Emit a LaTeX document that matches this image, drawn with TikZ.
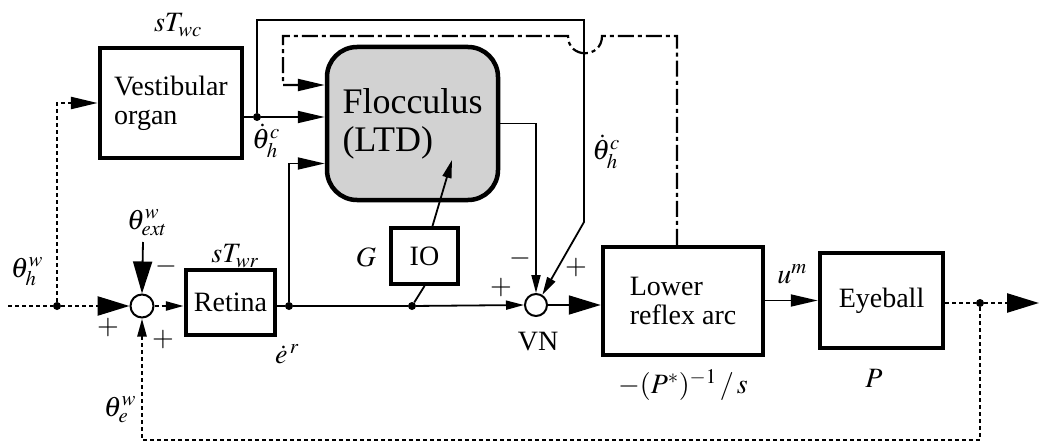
\documentclass[tikz,border=0pt]{standalone}
\usepackage{mathptmx}
\usepackage{fontspec}
\setmainfont{Liberation Serif}
\usetikzlibrary{arrows.meta,calc}
\tikzset{
  blk/.style={draw,line width=4.5pt,inner sep=0pt,align=left,font=\fontsize{28}{29}\selectfont},
  conn/.style={line width=1.8pt},
  dotl/.style={line width=2.5pt,dash pattern=on 4pt off 3pt},
  dashdot/.style={line width=2.2pt,dash pattern=on 16pt off 4pt on 4pt off 4pt},
  arrA/.style={-{Triangle[length=32pt,width=19pt]}},
  arrB/.style={-{Triangle[length=27pt,width=12pt]}},
  arrC/.style={-{Triangle[length=18pt,width=9pt]}},
  sumc/.style={circle,draw,line width=2pt,minimum size=23pt,inner sep=0pt},
  jdot/.style={circle,fill,inner sep=0pt,minimum size=8pt},
  lbl/.style={font=\fontsize{28}{29}\selectfont}
}
\begin{document}
\begin{tikzpicture}[x=1pt,y=-1pt]
\useasboundingbox (0,0) rectangle (1039,444);
% blocks
\node[blk,minimum width=142pt,minimum height=110pt] (vest) at (171,103) {Vestibular\\organ};
\node[blk,rounded corners=30pt,fill=gray!35,minimum width=171pt,minimum height=153pt,font=\fontsize{36}{38}\selectfont] (floc) at (412.5,123.5) {Flocculus\\(LTD)};
\node[blk,minimum width=89pt,minimum height=65pt] (ret) at (230.5,302.5) {Retina};
\node[blk,line width=4pt,minimum width=67pt,minimum height=56pt] (io) at (424.5,256) {IO};
\node[blk,minimum width=160pt,minimum height=108pt] (lra) at (683,301) {Lower\\reflex arc};
\node[blk,minimum width=123pt,minimum height=95pt] (eye) at (881.5,300.5) {Eyeball};
\node[sumc] (sum) at (142,306) {};
\node[sumc,minimum size=22pt] (vn) at (536,305) {};
% junctions
\node[jdot] (dh) at (57,306) {};
\node[jdot] (thc) at (257,117) {};
\node[jdot] (er) at (289,306) {};
\node[jdot] (iod) at (412,306) {};
\node[jdot] (dout) at (980,303) {};
\coordinate (in) at (8,306);
\coordinate (out) at (1039,303);
\coordinate (ext) at (143,242);
\coordinate (tl) at (257,20);
\coordinate (tr) at (584,20);
\coordinate (bend) at (584,222);
\coordinate (ddtop) at (677,36);
\coordinate (hopR) at (602,36);
\coordinate (hopL) at (568,36);
\coordinate (ddleft) at (283,36);
\coordinate (ioT) at (452,160);
\coordinate (bot) at (980,440);
% input theta_h^w
\draw[dotl] (in) -- (dh);
\draw[dotl,arrA] (dh) -- (sum.west);
\draw[dotl,arrB] (dh) |- (vest.west);
% external
\draw[conn,arrA] (ext) -- (sum.north);
\draw[dotl,arrC] (sum.east) -- (ret.west |- sum.east);
% retina output
\draw[conn] (ret.east |- er) -- (er);
\draw[conn] (er) -- (iod);
\draw[conn,arrC] (iod) -- (vn.west);
\draw[conn,arrB] (er) |- ($(floc.west)+(0,40)$);
% vestibular output
\draw[conn] (vest.east |- thc) -- (thc);
\draw[conn,arrB] (thc) -- (floc.west |- thc);
\draw[conn,arrC] (thc) -- (tl) -- (tr) -- (bend) -- (vn.58);
% flocculus output
\draw[conn,arrC] (floc.east) -| (vn.north);
% IO
\draw[conn] (io.south) -- (iod);
\draw[conn,arrC] ($(io.north)+(8,0)$) -- (ioT);
% VN to lower reflex arc
\draw[conn,arrA] (vn.east) -- (lra.west |- vn.east);
\draw[conn,arrB] (lra.east |- eye.west) -- (eye.west);
% output
\draw[dotl] (eye.east |- dout) -- (dout);
\draw[dotl,arrA] (dout) -- (out);
\draw[dotl,arrC] (dout) -- (bot) -| (sum.south);
% dash-dot feedback
\draw[dashdot,arrB] (lra.north -| ddtop) -- (ddtop) -- (hopR)
  .. controls (602,59) and (568,59) .. (hopL) -- (ddleft) -- (ddleft |- 0,85) -- (floc.west |- 0,85);
% labels
\node[lbl] (l1) at (178,25) {$sT_{wc}$};
\node[lbl] (l2) at (266,141) {$\dot\theta_h^c$};
\node[lbl] (l3) at (606,152) {$\dot\theta_h^c$};
\node[lbl] (l4) at (147,223) {$\theta_{ext}^w$};
\node[lbl] (l5) at (166,266) {$-$};
\node[lbl] (l6) at (108,328) {$+$};
\node[lbl] (l7) at (163,340) {$+$};
\node[lbl] (l8) at (27,272) {$\theta_h^w$};
\node[lbl] (l9) at (120,410) {$\theta_e^w$};
\node[lbl] (l10) at (235,256) {$sT_{wr}$};
\node[lbl] (l11) at (287,354) {$\dot e^{\,r}$};
\node[lbl] (l12) at (366,257) {$G$};
\node[lbl] (l13) at (501,288) {$+$};
\node[lbl] (l14) at (520,258) {$-$};
\node[lbl] (l15) at (576,268) {$+$};
\node[lbl] (l16) at (538,342) {VN};
\node[lbl] (l17) at (683,385) {$-(P^*)^{-1}\,/\,s$};
\node[lbl] (l18) at (792,274) {$u^m$};
\node[lbl] (l19) at (874,378) {$P$};
\end{tikzpicture}
\end{document}
